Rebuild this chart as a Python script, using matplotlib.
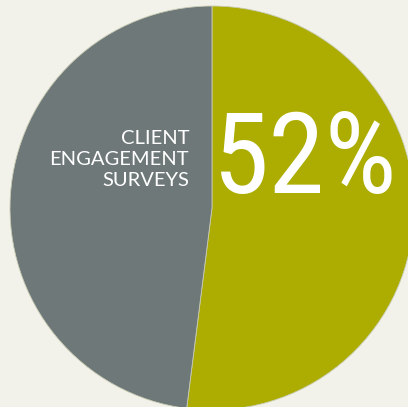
import matplotlib.pyplot as plt

# Share of clients covered by engagement surveys
shares = [52, 48]
slice_colors = ['#acad00', '#6e7878']
label_lines = ['CLIENT', 'ENGAGEMENT', 'SURVEYS']

bg = '#f3f2ea'

fig = plt.figure(figsize=(4.08, 4.07), dpi=100, facecolor=bg)
ax = fig.add_axes([0, 0, 1, 1])
ax.set_facecolor(bg)

# pie is drawn in pixel-like units so it can run off the right edge
ax.pie(shares, colors=slice_colors, startangle=90, counterclock=False,
       radius=202, center=(212, 199),
       wedgeprops=dict(edgecolor='#c9ccb4', linewidth=0.6))
ax.set_xlim(0, 408)
ax.set_ylim(0, 407)
ax.set_aspect('auto')
ax.axis('off')

ax.text(189, 247.5, '\n'.join(label_lines), ha='right', va='center',
        multialignment='right', color='white', fontsize=14.5,
        family=['Lato', 'DejaVu Sans'], linespacing=1.3)

ax.text(213, 214, f'{shares[0]}%', ha='left', va='baseline', color='white',
        fontsize=82,
        family=['Roboto Condensed', 'DejaVu Sans Condensed',
                'Liberation Sans Narrow', 'Roboto'],
        fontstretch='condensed')

fig.savefig('out.png', dpi=100, facecolor=bg)
